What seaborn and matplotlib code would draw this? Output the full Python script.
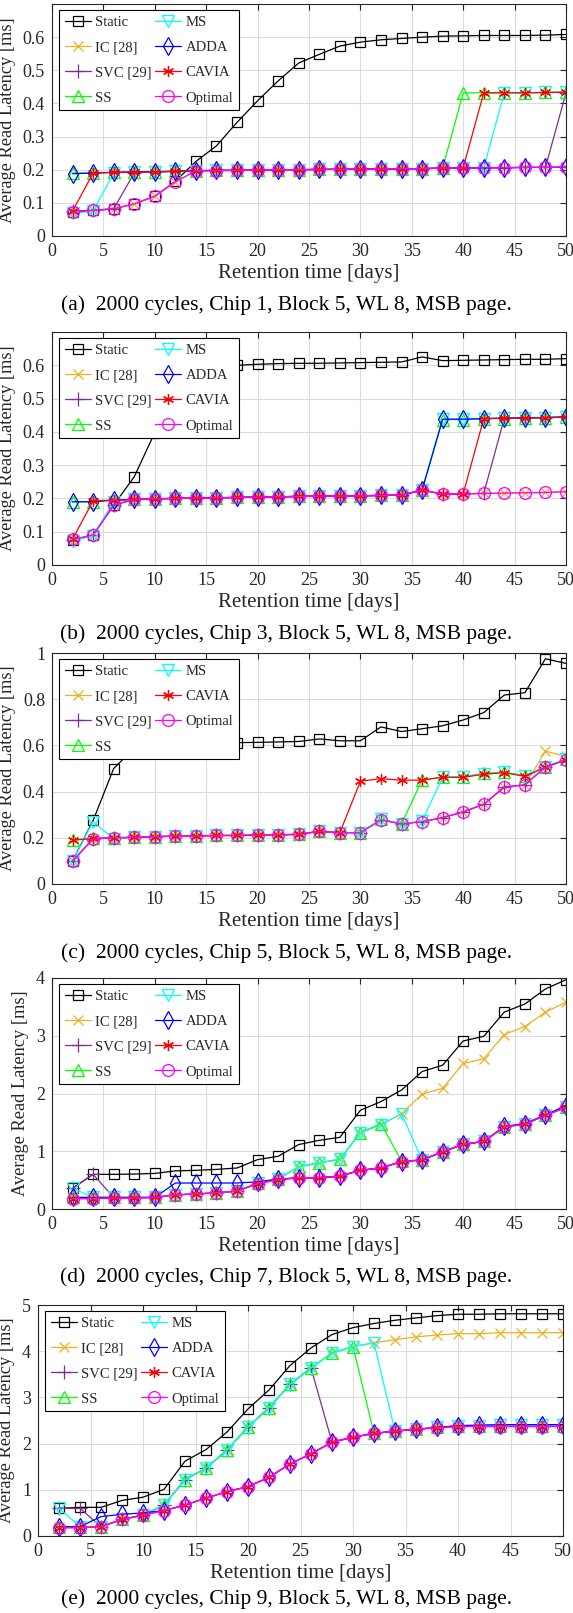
import seaborn as sns
import matplotlib.pyplot as plt
from matplotlib.ticker import FuncFormatter

# retention time [days]
days = [2, 4, 6, 8, 10, 12, 14, 16, 18, 20, 22, 24, 26, 28, 30, 32, 34, 36, 38, 40, 42, 44, 46, 48, 50]

# (a) Chip 1
static_a = [0.072, 0.077, 0.082, 0.097, 0.120, 0.165, 0.225, 0.272, 0.343, 0.408, 0.468, 0.522, 0.548, 0.573, 0.585, 0.592, 0.596, 0.600, 0.603, 0.604, 0.605, 0.605, 0.605, 0.606, 0.608]
ic_a = [0.072, 0.077, 0.082, 0.097, 0.120, 0.163, 0.197, 0.197, 0.198, 0.199, 0.200, 0.200, 0.201, 0.201, 0.202, 0.202, 0.203, 0.203, 0.205, 0.205, 0.206, 0.206, 0.207, 0.207, 0.208]
svc_a = [0.075, 0.078, 0.082, 0.190, 0.194, 0.195, 0.197, 0.198, 0.198, 0.199, 0.200, 0.200, 0.201, 0.201, 0.202, 0.202, 0.203, 0.203, 0.205, 0.205, 0.206, 0.206, 0.207, 0.207, 0.432]
ss_a = [0.190, 0.190, 0.192, 0.193, 0.194, 0.195, 0.197, 0.198, 0.198, 0.199, 0.200, 0.200, 0.201, 0.201, 0.202, 0.202, 0.203, 0.203, 0.205, 0.432, 0.432, 0.432, 0.432, 0.433, 0.435]
ms_a = [0.068, 0.075, 0.190, 0.193, 0.194, 0.195, 0.197, 0.198, 0.198, 0.199, 0.200, 0.200, 0.201, 0.201, 0.202, 0.202, 0.203, 0.203, 0.205, 0.205, 0.206, 0.432, 0.432, 0.433, 0.434]
adda_a = [0.188, 0.190, 0.192, 0.193, 0.194, 0.195, 0.197, 0.198, 0.198, 0.199, 0.200, 0.200, 0.201, 0.201, 0.202, 0.202, 0.203, 0.203, 0.205, 0.205, 0.206, 0.206, 0.207, 0.207, 0.208]
cavia_a = [0.075, 0.190, 0.192, 0.193, 0.194, 0.195, 0.197, 0.198, 0.198, 0.199, 0.200, 0.200, 0.201, 0.201, 0.202, 0.202, 0.203, 0.203, 0.205, 0.206, 0.432, 0.432, 0.432, 0.433, 0.434]
opt_a = [0.072, 0.077, 0.082, 0.097, 0.120, 0.163, 0.197, 0.197, 0.198, 0.199, 0.200, 0.200, 0.201, 0.201, 0.202, 0.202, 0.203, 0.203, 0.205, 0.205, 0.206, 0.206, 0.207, 0.207, 0.208]

# (b) Chip 3
static_b = [0.075, 0.090, 0.180, 0.265, 0.398, 0.510, 0.598, 0.600, 0.600, 0.603, 0.605, 0.606, 0.606, 0.607, 0.608, 0.609, 0.610, 0.625, 0.614, 0.615, 0.616, 0.617, 0.618, 0.618, 0.620]
ic_b = [0.077, 0.090, 0.180, 0.197, 0.199, 0.200, 0.201, 0.202, 0.203, 0.204, 0.205, 0.206, 0.207, 0.207, 0.208, 0.209, 0.210, 0.225, 0.213, 0.214, 0.215, 0.216, 0.217, 0.218, 0.220]
svc_b = [0.075, 0.090, 0.180, 0.197, 0.199, 0.200, 0.201, 0.202, 0.203, 0.204, 0.205, 0.206, 0.207, 0.207, 0.208, 0.209, 0.210, 0.225, 0.213, 0.214, 0.215, 0.441, 0.442, 0.443, 0.444]
ss_b = [0.190, 0.190, 0.195, 0.197, 0.199, 0.200, 0.201, 0.202, 0.203, 0.204, 0.205, 0.206, 0.207, 0.207, 0.208, 0.209, 0.210, 0.225, 0.437, 0.437, 0.439, 0.440, 0.441, 0.442, 0.444]
ms_b = [0.072, 0.088, 0.190, 0.197, 0.199, 0.200, 0.201, 0.202, 0.203, 0.204, 0.205, 0.206, 0.207, 0.207, 0.208, 0.209, 0.210, 0.225, 0.438, 0.438, 0.440, 0.441, 0.442, 0.443, 0.446]
adda_b = [0.190, 0.190, 0.195, 0.197, 0.199, 0.200, 0.201, 0.202, 0.203, 0.204, 0.205, 0.206, 0.207, 0.207, 0.208, 0.209, 0.210, 0.225, 0.438, 0.438, 0.440, 0.441, 0.442, 0.443, 0.445]
cavia_b = [0.078, 0.193, 0.195, 0.197, 0.199, 0.200, 0.201, 0.202, 0.203, 0.204, 0.205, 0.206, 0.207, 0.207, 0.208, 0.209, 0.210, 0.225, 0.213, 0.214, 0.440, 0.441, 0.442, 0.443, 0.444]
opt_b = [0.077, 0.090, 0.180, 0.197, 0.199, 0.200, 0.201, 0.202, 0.203, 0.204, 0.205, 0.206, 0.207, 0.207, 0.208, 0.209, 0.210, 0.225, 0.213, 0.214, 0.215, 0.216, 0.217, 0.218, 0.220]

# (c) Chip 5 (no ADDA)
static_c = [0.100, 0.275, 0.500, 0.588, 0.603, 0.607, 0.608, 0.610, 0.612, 0.613, 0.615, 0.617, 0.628, 0.620, 0.620, 0.680, 0.660, 0.672, 0.685, 0.710, 0.742, 0.818, 0.828, 0.975, 0.955]
ic_c = [0.100, 0.195, 0.200, 0.202, 0.205, 0.207, 0.208, 0.210, 0.210, 0.212, 0.213, 0.215, 0.228, 0.222, 0.222, 0.278, 0.260, 0.270, 0.287, 0.312, 0.345, 0.420, 0.429, 0.575, 0.553]
svc_c = [0.100, 0.195, 0.200, 0.202, 0.205, 0.207, 0.208, 0.210, 0.210, 0.212, 0.213, 0.215, 0.228, 0.222, 0.222, 0.278, 0.260, 0.270, 0.287, 0.312, 0.345, 0.420, 0.429, 0.507, 0.537]
ss_c = [0.190, 0.197, 0.200, 0.202, 0.205, 0.207, 0.208, 0.210, 0.210, 0.212, 0.213, 0.215, 0.228, 0.222, 0.222, 0.280, 0.260, 0.450, 0.463, 0.463, 0.480, 0.485, 0.468, 0.507, 0.540]
ms_c = [0.100, 0.270, 0.195, 0.202, 0.205, 0.207, 0.208, 0.210, 0.210, 0.212, 0.213, 0.215, 0.228, 0.222, 0.222, 0.280, 0.260, 0.272, 0.463, 0.463, 0.478, 0.483, 0.468, 0.507, 0.540]
cavia_c = [0.190, 0.197, 0.200, 0.202, 0.205, 0.207, 0.208, 0.210, 0.210, 0.212, 0.213, 0.215, 0.228, 0.222, 0.445, 0.456, 0.449, 0.450, 0.462, 0.462, 0.475, 0.482, 0.466, 0.505, 0.538]
opt_c = [0.100, 0.195, 0.200, 0.202, 0.205, 0.207, 0.208, 0.210, 0.210, 0.212, 0.213, 0.215, 0.228, 0.222, 0.222, 0.278, 0.260, 0.270, 0.287, 0.312, 0.345, 0.420, 0.429, 0.507, 0.537]

# (d) Chip 7
static_d = [0.36, 0.60, 0.60, 0.605, 0.616, 0.66, 0.67, 0.686, 0.71, 0.855, 0.913, 1.116, 1.19, 1.24, 1.71, 1.86, 2.06, 2.38, 2.49, 2.91, 2.99, 3.41, 3.55, 3.81, 3.97]
ic_d = [0.20, 0.20, 0.20, 0.20, 0.20, 0.245, 0.26, 0.28, 0.31, 0.45, 0.52, 0.73, 0.80, 0.86, 1.32, 1.46, 1.65, 1.99, 2.09, 2.52, 2.60, 3.02, 3.16, 3.41, 3.58]
svc_d = [0.36, 0.60, 0.20, 0.20, 0.20, 0.245, 0.26, 0.28, 0.31, 0.44, 0.51, 0.54, 0.54, 0.57, 0.67, 0.71, 0.82, 0.85, 0.99, 1.12, 1.17, 1.42, 1.47, 1.62, 1.77]
ss_d = [0.20, 0.20, 0.20, 0.20, 0.20, 0.245, 0.26, 0.28, 0.31, 0.45, 0.52, 0.73, 0.80, 0.86, 1.32, 1.48, 0.83, 0.85, 0.99, 1.12, 1.17, 1.42, 1.47, 1.62, 1.77]
ms_d = [0.36, 0.20, 0.20, 0.20, 0.20, 0.245, 0.26, 0.28, 0.31, 0.45, 0.52, 0.73, 0.80, 0.86, 1.32, 1.46, 1.65, 0.85, 0.99, 1.12, 1.17, 1.42, 1.47, 1.62, 1.77]
adda_d = [0.20, 0.20, 0.20, 0.20, 0.20, 0.45, 0.45, 0.45, 0.45, 0.47, 0.52, 0.54, 0.54, 0.57, 0.67, 0.71, 0.82, 0.85, 0.99, 1.12, 1.17, 1.43, 1.48, 1.63, 1.79]
cavia_d = [0.18, 0.18, 0.19, 0.19, 0.20, 0.245, 0.26, 0.28, 0.31, 0.44, 0.51, 0.54, 0.54, 0.57, 0.67, 0.71, 0.82, 0.85, 0.99, 1.12, 1.17, 1.42, 1.47, 1.62, 1.76]
opt_d = [0.18, 0.18, 0.19, 0.19, 0.20, 0.245, 0.26, 0.28, 0.31, 0.44, 0.51, 0.54, 0.54, 0.57, 0.67, 0.71, 0.82, 0.85, 0.99, 1.12, 1.17, 1.42, 1.47, 1.62, 1.76]

# (e) Chip 9
static_e = [0.60, 0.62, 0.62, 0.77, 0.84, 1.01, 1.62, 1.87, 2.25, 2.75, 3.16, 3.69, 4.07, 4.36, 4.51, 4.60, 4.67, 4.72, 4.77, 4.80, 4.80, 4.81, 4.81, 4.81, 4.81]
ic_e = [0.20, 0.20, 0.20, 0.36, 0.45, 0.67, 1.22, 1.47, 1.86, 2.36, 2.78, 3.28, 3.64, 3.96, 4.10, 4.18, 4.25, 4.31, 4.35, 4.38, 4.38, 4.40, 4.40, 4.40, 4.40]
svc_e = [0.60, 0.60, 0.20, 0.36, 0.45, 0.67, 1.22, 1.47, 1.86, 2.36, 2.78, 3.28, 3.64, 2.03, 2.14, 2.22, 2.27, 2.31, 2.35, 2.38, 2.39, 2.40, 2.40, 2.40, 2.40]
ss_e = [0.20, 0.20, 0.20, 0.36, 0.45, 0.67, 1.22, 1.47, 1.86, 2.36, 2.78, 3.28, 3.64, 3.96, 4.10, 2.22, 2.27, 2.31, 2.35, 2.38, 2.39, 2.39, 2.39, 2.39, 2.39]
ms_e = [0.60, 0.20, 0.20, 0.36, 0.45, 0.67, 1.22, 1.47, 1.86, 2.36, 2.78, 3.28, 3.64, 3.96, 4.10, 4.18, 2.27, 2.31, 2.35, 2.38, 2.39, 2.40, 2.40, 2.40, 2.40]
adda_e = [0.20, 0.20, 0.42, 0.47, 0.50, 0.55, 0.67, 0.82, 0.96, 1.07, 1.27, 1.56, 1.78, 2.03, 2.14, 2.22, 2.27, 2.31, 2.35, 2.39, 2.40, 2.41, 2.41, 2.41, 2.41]
cavia_e = [0.18, 0.18, 0.20, 0.36, 0.45, 0.55, 0.67, 0.82, 0.96, 1.07, 1.27, 1.56, 1.78, 2.03, 2.14, 2.22, 2.27, 2.31, 2.34, 2.37, 2.37, 2.37, 2.37, 2.37, 2.37]
opt_e = [0.18, 0.18, 0.20, 0.36, 0.45, 0.55, 0.67, 0.82, 0.96, 1.07, 1.27, 1.56, 1.78, 2.03, 2.14, 2.22, 2.27, 2.31, 2.34, 2.37, 2.37, 2.37, 2.37, 2.37, 2.37]

names = ["Static", "IC [28]", "SVC [29]", "SS", "MS", "ADDA", "CAVIA", "Optimal"]
colors = ["black", "#EDB120", "#7E2F8E", "#00FF00", "#00FFFF", "#0000FF", "#FF0000", "#FF00FF"]
markers = ["s", "x", "+", "^", "v", "d", (6, 2, 0), "o"]
msizes = [7, 7, 10, 8.5, 8.5, 9, 8, 8.5]

captions = [
    "(a)  2000 cycles, Chip 1, Block 5, WL 8, MSB page.",
    "(b)  2000 cycles, Chip 3, Block 5, WL 8, MSB page.",
    "(c)  2000 cycles, Chip 5, Block 5, WL 8, MSB page.",
    "(d)  2000 cycles, Chip 7, Block 5, WL 8, MSB page.",
    "(e)  2000 cycles, Chip 9, Block 5, WL 8, MSB page.",
]

panels = [
    [static_a, ic_a, svc_a, ss_a, ms_a, adda_a, cavia_a, opt_a],
    [static_b, ic_b, svc_b, ss_b, ms_b, adda_b, cavia_b, opt_b],
    [static_c, ic_c, svc_c, ss_c, ms_c, None, cavia_c, opt_c],
    [static_d, ic_d, svc_d, ss_d, ms_d, adda_d, cavia_d, opt_d],
    [static_e, ic_e, svc_e, ss_e, ms_e, adda_e, cavia_e, opt_e],
]
ylims = [0.7, 0.7, 1.0, 4.0, 5.0]
ysteps = [0.1, 0.1, 0.2, 1.0, 1.0]

sns.set_theme(style="whitegrid")
plt.rcParams['font.family'] = ['Liberation Serif', 'DejaVu Serif']

W, H = 573, 1613
fig = plt.figure(figsize=(W / 100, H / 100), dpi=100)

# axes boxes in pixels: left, right, top, bottom
boxes = [(52, 566, 4, 236), (52, 566, 332, 565), (52, 566, 653, 884),
         (52, 566, 978, 1209), (38, 563, 1305, 1536)]
cap_off = [69, 69, 69, 68, 63]

for i, (l, r, t, b) in enumerate(boxes):
    ax = fig.add_axes([l / W, 1 - b / H, (r - l) / W, (b - t) / H])
    for j in range(8):
        vals = panels[i][j]
        if vals is None:
            continue
        sns.lineplot(x=days, y=vals, ax=ax, color=colors[j], marker=markers[j],
                     markersize=msizes[j], markerfacecolor='none',
                     markeredgecolor=colors[j], markeredgewidth=0.9,
                     linewidth=0.9, label=names[j], estimator=None, sort=False)
    ax.set_xlim(0, 50)
    ax.set_ylim(0, ylims[i])
    ax.set_xticks(range(0, 51, 5))
    n = int(round(ylims[i] / ysteps[i]))
    yt = [k * ysteps[i] for k in range(n + 1)]
    if ylims[i] == 0.7:
        yt = yt[:-1]
    ax.set_yticks(yt)
    ax.yaxis.set_major_formatter(FuncFormatter(lambda v, p: "%g" % round(v, 2)))
    ax.grid(True, color="#dcdcdc", linewidth=0.8)
    for sp in ax.spines.values():
        sp.set_color("#262626")
        sp.set_linewidth(0.8)
    ax.tick_params(direction='in', length=4, width=0.8, colors="#262626",
                   labelsize=13, top=True, right=True, pad=5)
    ax.set_xlabel("Retention time [days]", fontsize=15, color="#262626", labelpad=3)
    ax.set_ylabel("Average Read Latency [ms]", fontsize=13.2, color="#262626", labelpad=5)
    leg = ax.legend(loc='upper left', bbox_to_anchor=(7 / (r - l), 1 - 6 / (b - t)),
                    ncol=2, fontsize=10.5, frameon=True, fancybox=False,
                    edgecolor='black', framealpha=1, handlelength=1.8,
                    handletextpad=0.3, columnspacing=0.2, labelspacing=0.82,
                    borderpad=0.4, borderaxespad=0)
    leg.get_frame().set_linewidth(0.8)
    fig.text(0.5, 1 - (b + cap_off[i]) / H, captions[i], ha='center', va='center',
             fontsize=15.5, color='black')

fig.savefig("out.png", dpi=100)
